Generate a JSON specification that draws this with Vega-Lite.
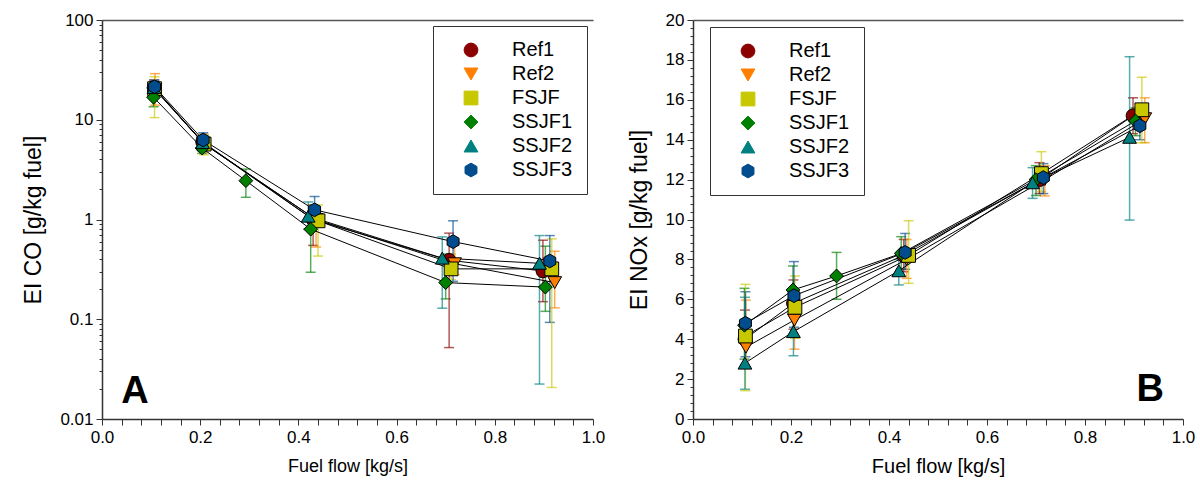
{
  "$schema": "https://vega.github.io/schema/vega-lite/v6.json",
  "padding": {"left": 22, "top": 11, "right": 5, "bottom": 5},
  "background": "white",
  "spacing": 100,
  "bounds": "flush",
  "config": {
    "font": "Liberation Sans",
    "view": {"stroke": null},
    "axis": {"labelFont": "Liberation Sans", "titleFont": "Liberation Sans", "titleFontWeight": "normal", "labelColor": "black", "titleColor": "black", "grid": false, "domainColor": "#333", "domainWidth": 1.5, "tickColor": "#333", "tickWidth": 1, "labelFlush": false},
    "legend": {"labelFont": "Liberation Sans", "labelFontSize": 20, "labelColor": "black", "symbolSize": 190, "strokeColor": "#333", "fillColor": "white", "padding": 14, "rowPadding": 4, "symbolOffset": 14, "labelOffset": 31, "symbolOpacity": 1, "symbolStrokeColor": "black", "symbolStrokeWidth": 1}
  },
  "datasets": {
    "co": [
      {"s": "Ref1", "x": 0.106, "y": 21, "lo": 17, "hi": 25},
      {"s": "Ref1", "x": 0.205, "y": 6.0, "lo": 5.2, "hi": 6.9},
      {"s": "Ref1", "x": 0.430, "y": 1.0, "lo": 0.55, "hi": 1.4},
      {"s": "Ref1", "x": 0.707, "y": 0.39, "lo": 0.052, "hi": 0.73},
      {"s": "Ref1", "x": 0.898, "y": 0.305, "lo": 0.15, "hi": 0.62},
      {"s": "Ref2", "x": 0.108, "y": 20, "lo": 14, "hi": 29},
      {"s": "Ref2", "x": 0.207, "y": 5.8, "lo": 4.7, "hi": 7.2},
      {"s": "Ref2", "x": 0.436, "y": 1.0, "lo": 0.53, "hi": 1.35},
      {"s": "Ref2", "x": 0.718, "y": 0.36, "lo": 0.28, "hi": 0.55},
      {"s": "Ref2", "x": 0.922, "y": 0.233, "lo": 0.13, "hi": 0.48},
      {"s": "FSJF", "x": 0.107, "y": 20.5, "lo": 10.5, "hi": 27},
      {"s": "FSJF", "x": 0.208, "y": 5.7, "lo": 4.45, "hi": 7.0},
      {"s": "FSJF", "x": 0.440, "y": 0.97, "lo": 0.43, "hi": 1.4},
      {"s": "FSJF", "x": 0.711, "y": 0.32, "lo": 0.25, "hi": 0.45},
      {"s": "FSJF", "x": 0.916, "y": 0.32, "lo": 0.0207, "hi": 0.64},
      {"s": "SSJF1", "x": 0.105, "y": 16.8, "lo": 13.5, "hi": 21},
      {"s": "SSJF1", "x": 0.204, "y": 5.2, "lo": 4.6, "hi": 6.0},
      {"s": "SSJF1", "x": 0.293, "y": 2.45, "lo": 1.67, "hi": 3.2},
      {"s": "SSJF1", "x": 0.425, "y": 0.80, "lo": 0.296, "hi": 1.1},
      {"s": "SSJF1", "x": 0.700, "y": 0.233, "lo": 0.16, "hi": 0.45},
      {"s": "SSJF1", "x": 0.903, "y": 0.21, "lo": 0.12, "hi": 0.54},
      {"s": "SSJF2", "x": 0.106, "y": 21, "lo": 18, "hi": 24},
      {"s": "SSJF2", "x": 0.205, "y": 5.9, "lo": 5.2, "hi": 6.8},
      {"s": "SSJF2", "x": 0.420, "y": 1.08, "lo": 0.8, "hi": 1.5},
      {"s": "SSJF2", "x": 0.693, "y": 0.41, "lo": 0.129, "hi": 0.67},
      {"s": "SSJF2", "x": 0.891, "y": 0.364, "lo": 0.0224, "hi": 0.69},
      {"s": "SSJF3", "x": 0.107, "y": 21.4, "lo": 18.5, "hi": 25},
      {"s": "SSJF3", "x": 0.206, "y": 6.27, "lo": 5.5, "hi": 7.4},
      {"s": "SSJF3", "x": 0.433, "y": 1.25, "lo": 0.9, "hi": 1.7},
      {"s": "SSJF3", "x": 0.715, "y": 0.6, "lo": 0.24, "hi": 0.97},
      {"s": "SSJF3", "x": 0.912, "y": 0.384, "lo": 0.093, "hi": 0.69}
    ],
    "nox": [
      {"s": "Ref1", "x": 0.106, "y": 4.0, "lo": 2.7, "hi": 5.46},
      {"s": "Ref1", "x": 0.205, "y": 5.8, "lo": 4.5, "hi": 6.97},
      {"s": "Ref1", "x": 0.430, "y": 8.2, "lo": 7.38, "hi": 9.0},
      {"s": "Ref1", "x": 0.707, "y": 12.0, "lo": 11.3, "hi": 12.85},
      {"s": "Ref1", "x": 0.898, "y": 15.2, "lo": 14.3, "hi": 16.1},
      {"s": "Ref2", "x": 0.108, "y": 3.6, "lo": 2.6, "hi": 5.96},
      {"s": "Ref2", "x": 0.207, "y": 4.96, "lo": 3.5, "hi": 6.4},
      {"s": "Ref2", "x": 0.436, "y": 8.0, "lo": 7.05, "hi": 9.0},
      {"s": "Ref2", "x": 0.718, "y": 12.0, "lo": 11.18, "hi": 12.7},
      {"s": "Ref2", "x": 0.922, "y": 15.05, "lo": 13.85, "hi": 16.1},
      {"s": "FSJF", "x": 0.107, "y": 4.16, "lo": 1.42, "hi": 6.75},
      {"s": "FSJF", "x": 0.208, "y": 5.6, "lo": 4.04, "hi": 7.17},
      {"s": "FSJF", "x": 0.440, "y": 8.2, "lo": 6.8, "hi": 9.94},
      {"s": "FSJF", "x": 0.711, "y": 12.3, "lo": 11.4, "hi": 13.4},
      {"s": "FSJF", "x": 0.916, "y": 15.5, "lo": 13.85, "hi": 17.13},
      {"s": "SSJF1", "x": 0.105, "y": 4.7, "lo": 3.0, "hi": 6.55},
      {"s": "SSJF1", "x": 0.204, "y": 6.47, "lo": 5.3, "hi": 7.67},
      {"s": "SSJF1", "x": 0.293, "y": 7.17, "lo": 6.0, "hi": 8.35},
      {"s": "SSJF1", "x": 0.425, "y": 8.3, "lo": 7.5, "hi": 9.14},
      {"s": "SSJF1", "x": 0.700, "y": 12.0, "lo": 11.2, "hi": 12.7},
      {"s": "SSJF1", "x": 0.903, "y": 14.94, "lo": 14.2, "hi": 15.6},
      {"s": "SSJF2", "x": 0.106, "y": 2.8, "lo": 1.49, "hi": 6.1},
      {"s": "SSJF2", "x": 0.205, "y": 4.38, "lo": 3.17, "hi": 5.6},
      {"s": "SSJF2", "x": 0.420, "y": 7.43, "lo": 6.72, "hi": 8.0},
      {"s": "SSJF2", "x": 0.693, "y": 11.84, "lo": 11.06, "hi": 12.6},
      {"s": "SSJF2", "x": 0.891, "y": 14.12, "lo": 9.97, "hi": 18.16},
      {"s": "SSJF3", "x": 0.107, "y": 4.8, "lo": 3.12, "hi": 6.38},
      {"s": "SSJF3", "x": 0.206, "y": 6.18, "lo": 4.6, "hi": 7.89},
      {"s": "SSJF3", "x": 0.433, "y": 8.35, "lo": 7.5, "hi": 9.3},
      {"s": "SSJF3", "x": 0.715, "y": 12.1, "lo": 11.3, "hi": 12.8},
      {"s": "SSJF3", "x": 0.912, "y": 14.7, "lo": 14.0, "hi": 15.5}
    ]
  },
  "resolve": {"scale": {"shape": "independent", "fill": "independent", "color": "independent"}},
  "hconcat": [
    {
      "width": 491,
      "height": 399,
      "data": {"name": "co"},
      "resolve": {"axis": {"x": "independent", "y": "independent"}},
      "layer": [
        {
          "mark": {"type": "errorbar", "ticks": {"size": 10}, "thickness": 1.5},
          "encoding": {
            "x": {"field": "x", "type": "quantitative", "scale": {"domain": [0, 1], "nice": false, "zero": false},
              "axis": {"orient": "bottom", "values": [0,0.04,0.08,0.12,0.16,0.2,0.24,0.28,0.32,0.36,0.4,0.44,0.48,0.52,0.56,0.6,0.64,0.68,0.72,0.76,0.8,0.84,0.88,0.92,0.96,1],
                "labelExpr": "abs(datum.value*5-round(datum.value*5))<0.001 ? format(datum.value,'.1f') : ''",
                "tickSize": 6, "labelFontSize": 17, "labelPadding": 4, "title": "Fuel flow [kg/s]", "titleFontSize": 18, "titlePadding": 12}},
            "y": {"field": "lo", "type": "quantitative", "title": "EI CO [g/kg fuel]", "scale": {"type": "log", "domain": [0.01, 100], "nice": false},
              "axis": {"orient": "left", "values": [0.01, 0.1, 1, 10, 100], "format": "~g",
                "tickSize": 6, "labelFontSize": 17, "labelPadding": 3, "titleFontSize": 23, "titlePadding": 14}},
            "y2": {"field": "hi"},
            "color": {"field": "s", "type": "nominal",
              "legend": {"title": null, "orient": "none", "legendX": 331, "legendY": 6},
              "scale": {"domain": ["Ref1","Ref2","FSJF","SSJF1","SSJF2","SSJF3"], "range": ["#8B0000","#FF7F00","#C8C800","#008000","#008080","#004C8C"]}},
            "opacity": {"value": 0.65}
          }
        },
        {
          "mark": {"type": "line", "color": "black", "strokeWidth": 1},
          "encoding": {
            "x": {"field": "x", "type": "quantitative", "axis": null},
            "y": {"field": "y", "type": "quantitative", "scale": {"type": "log"},
              "axis": {"orient": "left", "values": [0.02,0.03,0.04,0.05,0.06,0.07,0.08,0.09,0.2,0.3,0.4,0.5,0.6,0.7,0.8,0.9,2,3,4,5,6,7,8,9,20,30,40,50,60,70,80,90],
                "labels": false, "domain": false, "tickSize": 3, "title": null}},
            "detail": {"field": "s"},
            "order": {"field": "x", "type": "quantitative"}
          }
        },
        {
          "mark": {"type": "point", "filled": true, "stroke": "black", "strokeWidth": 1, "size": 190, "opacity": 1},
          "encoding": {
            "x": {"field": "x", "type": "quantitative", "axis": null},
            "y": {"field": "y", "type": "quantitative", "scale": {"type": "log"}, "axis": null},
            "shape": {"field": "s", "type": "nominal",
              "scale": {"domain": ["Ref1","Ref2","FSJF","SSJF1","SSJF2","SSJF3"], "range": ["circle","triangle-down","square","diamond","triangle-up","M0,-1L0.866,-0.5L0.866,0.5L0,1L-0.866,0.5L-0.866,-0.5Z"]}},
            "fill": {"field": "s", "type": "nominal",
              "scale": {"domain": ["Ref1","Ref2","FSJF","SSJF1","SSJF2","SSJF3"], "range": ["#8B0000","#FF7F00","#C8C800","#008000","#008080","#004C8C"]}}
          }
        },
        {
          "data": {"values": [{"x": 0.067, "y": 0.0145, "t": "A"}]},
          "mark": {"type": "text", "fontSize": 38, "fontWeight": "bold", "baseline": "alphabetic", "align": "center", "color": "black"},
          "encoding": {
            "x": {"field": "x", "type": "quantitative", "axis": {"orient": "top", "labels": false, "ticks": false, "title": null, "domain": true, "domainColor": "#555", "domainWidth": 1.5}},
            "y": {"field": "y", "type": "quantitative", "scale": {"type": "log"}, "axis": null},
            "text": {"field": "t"}
          }
        }
      ]
    },
    {
      "width": 490,
      "height": 399,
      "data": {"name": "nox"},
      "resolve": {"axis": {"x": "independent", "y": "independent"}},
      "layer": [
        {
          "mark": {"type": "errorbar", "ticks": {"size": 10}, "thickness": 1.5},
          "encoding": {
            "x": {"field": "x", "type": "quantitative", "scale": {"domain": [0, 1], "nice": false, "zero": false},
              "axis": {"orient": "bottom", "values": [0,0.04,0.08,0.12,0.16,0.2,0.24,0.28,0.32,0.36,0.4,0.44,0.48,0.52,0.56,0.6,0.64,0.68,0.72,0.76,0.8,0.84,0.88,0.92,0.96,1],
                "labelExpr": "abs(datum.value*5-round(datum.value*5))<0.001 ? format(datum.value,'.1f') : ''",
                "tickSize": 6, "labelFontSize": 17, "labelPadding": 4, "title": "Fuel flow [kg/s]", "titleFontSize": 20, "titlePadding": 11}},
            "y": {"field": "lo", "type": "quantitative", "title": "EI NOx [g/kg fuel]", "scale": {"domain": [0, 20], "nice": false},
              "axis": {"orient": "left", "values": [0,2,4,6,8,10,12,14,16,18,20], "format": "d",
                "tickSize": 6, "labelFontSize": 17, "labelPadding": 3, "titleFontSize": 23, "titlePadding": 14}},
            "y2": {"field": "hi"},
            "color": {"field": "s", "type": "nominal",
              "legend": {"title": null, "orient": "none", "legendX": 17, "legendY": 7},
              "scale": {"domain": ["Ref1","Ref2","FSJF","SSJF1","SSJF2","SSJF3"], "range": ["#8B0000","#FF7F00","#C8C800","#008000","#008080","#004C8C"]}},
            "opacity": {"value": 0.65}
          }
        },
        {
          "mark": {"type": "line", "color": "black", "strokeWidth": 1},
          "encoding": {
            "x": {"field": "x", "type": "quantitative", "axis": null},
            "y": {"field": "y", "type": "quantitative",
              "axis": {"orient": "left", "values": [0.4,0.8,1.2,1.6,2.4,2.8,3.2,3.6,4.4,4.8,5.2,5.6,6.4,6.8,7.2,7.6,8.4,8.8,9.2,9.6,10.4,10.8,11.2,11.6,12.4,12.8,13.2,13.6,14.4,14.8,15.2,15.6,16.4,16.8,17.2,17.6,18.4,18.8,19.2,19.6],
                "labels": false, "domain": false, "tickSize": 3, "title": null}},
            "detail": {"field": "s"},
            "order": {"field": "x", "type": "quantitative"}
          }
        },
        {
          "mark": {"type": "point", "filled": true, "stroke": "black", "strokeWidth": 1, "size": 190, "opacity": 1},
          "encoding": {
            "x": {"field": "x", "type": "quantitative", "axis": null},
            "y": {"field": "y", "type": "quantitative", "axis": null},
            "shape": {"field": "s", "type": "nominal",
              "scale": {"domain": ["Ref1","Ref2","FSJF","SSJF1","SSJF2","SSJF3"], "range": ["circle","triangle-down","square","diamond","triangle-up","M0,-1L0.866,-0.5L0.866,0.5L0,1L-0.866,0.5L-0.866,-0.5Z"]}},
            "fill": {"field": "s", "type": "nominal",
              "scale": {"domain": ["Ref1","Ref2","FSJF","SSJF1","SSJF2","SSJF3"], "range": ["#8B0000","#FF7F00","#C8C800","#008000","#008080","#004C8C"]}}
          }
        },
        {
          "data": {"values": [{"x": 0.933, "y": 0.9, "t": "B"}]},
          "mark": {"type": "text", "fontSize": 38, "fontWeight": "bold", "baseline": "alphabetic", "align": "center", "color": "black"},
          "encoding": {
            "x": {"field": "x", "type": "quantitative", "axis": {"orient": "top", "labels": false, "ticks": false, "title": null, "domain": true, "domainColor": "#555", "domainWidth": 1.5}},
            "y": {"field": "y", "type": "quantitative", "axis": null},
            "text": {"field": "t"}
          }
        }
      ]
    }
  ]
}
